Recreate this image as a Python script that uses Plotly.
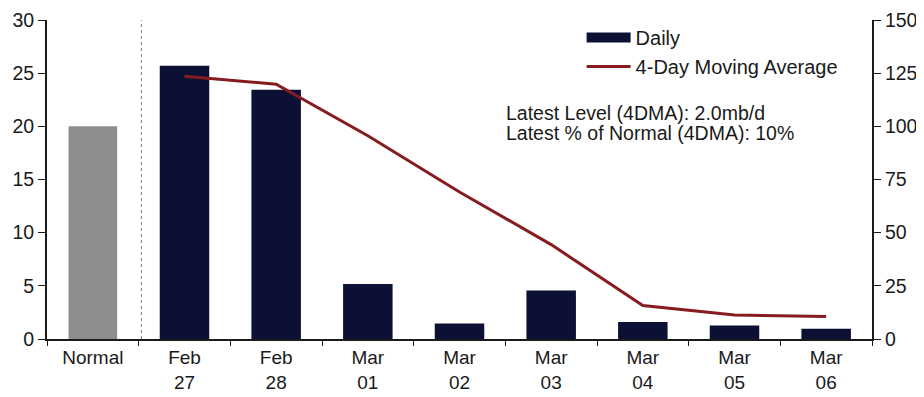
import plotly.graph_objects as go

categories = ["Normal", "Feb<br>27", "Feb<br>28", "Mar<br>01", "Mar<br>02",
              "Mar<br>03", "Mar<br>04", "Mar<br>05", "Mar<br>06"]
normal_value = [20.0]
daily_values = [25.7, 23.45, 5.17, 1.46, 4.57, 1.6, 1.28, 0.97]
ma_pct_values = [123.5, 119.8, 95.6, 69.1, 44.4, 15.7, 11.3, 10.6]
left_ticks = [0, 5, 10, 15, 20, 25, 30]
right_ticks = [0, 25, 50, 75, 100, 125, 150]
note_lines = ["Latest Level (4DMA): 2.0mb/d", "Latest % of Normal (4DMA): 10%"]

NAVY = "#0b1034"
GRAY = "#8e8e8e"
RED = "#861c1f"
FONT = "Liberation Sans, Arial, sans-serif"
TXT = "#1a1a1a"

fig = go.Figure()
fig.add_trace(go.Bar(x=categories[:1], y=normal_value, marker=dict(color=GRAY, line=dict(width=0)),
                     width=0.53, showlegend=False))
fig.add_trace(go.Bar(x=categories[1:], y=daily_values, name="Daily", showlegend=False,
                     marker=dict(color=NAVY, line=dict(width=0)), width=0.54))
# legend-only entry giving the wide rectangular swatch of the reference legend
fig.add_trace(go.Scatter(x=[None], y=[None], name="Daily", mode="lines",
                         line=dict(color=NAVY, width=12), hoverinfo="skip"))
fig.add_trace(go.Scatter(x=categories[1:], y=ma_pct_values, name="4-Day Moving Average",
                         mode="lines", line=dict(color=RED, width=3), yaxis="y2"))

fig.add_shape(type="line", xref="x", yref="y", x0=0.53, x1=0.53, y0=0, y1=30,
              line=dict(color="#808080", width=1, dash="dot"))

for txt, ypos in zip(note_lines, [0.708, 0.646]):
    fig.add_annotation(xref="paper", yref="paper", x=0.554, y=ypos, xanchor="left",
                       yanchor="middle", align="left", showarrow=False, text=txt,
                       font=dict(family=FONT, size=19.5, color=TXT))

fig.update_layout(
    width=916, height=389, autosize=False,
    margin=dict(l=39, r=52, t=12, b=58, autoexpand=False),
    plot_bgcolor="white", paper_bgcolor="white",
    font=dict(family=FONT, size=19, color=TXT),
    showlegend=True,
    legend=dict(x=0.648, y=1.006, xanchor="left", yanchor="top", bgcolor="rgba(0,0,0,0)",
                font=dict(family=FONT, size=20, color=TXT), itemwidth=44,
                tracegroupgap=0, traceorder="normal"),
    xaxis=dict(type="category", showline=True, linecolor=TXT, linewidth=2,
               ticks="outside", tickson="boundaries", ticklen=5, tickcolor=TXT,
               showgrid=False, tickfont=dict(size=19), automargin=False,
               ticklabeloverflow="allow"),
    yaxis=dict(range=[0, 30], tickvals=left_ticks, showline=True, linecolor=TXT,
               linewidth=2, ticks="outside", ticklen=7, tickcolor=TXT,
               showgrid=False, zeroline=False, tickfont=dict(size=19.5), automargin=False,
               ticklabeloverflow="allow"),
    yaxis2=dict(range=[0, 150], tickvals=right_ticks, overlaying="y", side="right",
                showline=True, linecolor=TXT, linewidth=2, ticks="outside", ticklen=7,
                tickcolor=TXT, showgrid=False, zeroline=False, tickfont=dict(size=19.5),
                automargin=False, ticklabeloverflow="allow"),
)

fig.write_html("out.html")
